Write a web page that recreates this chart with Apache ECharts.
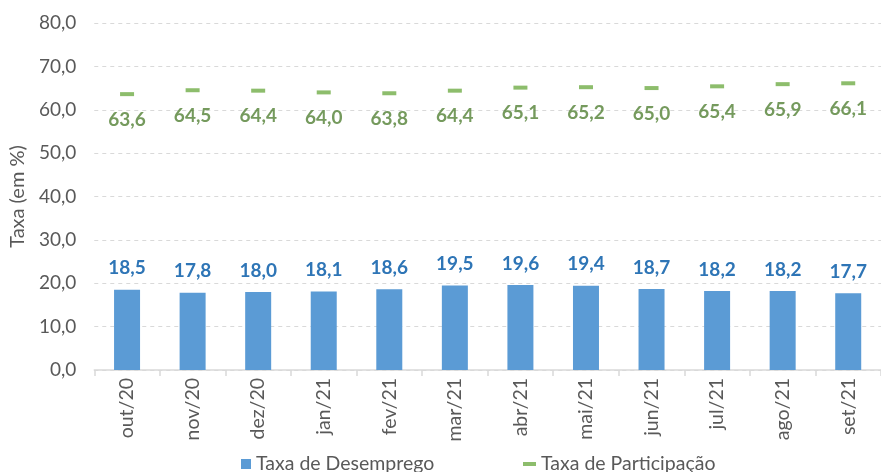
<!DOCTYPE html>
<html>
<head>
<meta charset="utf-8">
<script src="https://cdn.jsdelivr.net/npm/echarts@6/dist/echarts.min.js"></script>
<style>html,body{margin:0;padding:0;background:#fff}#c{width:881px;height:472px}</style>
</head>
<body>
<div id="c"></div>
<script>
var categories = ['out/20','nov/20','dez/20','jan/21','fev/21','mar/21','abr/21','mai/21','jun/21','jul/21','ago/21','set/21'];
var desemprego = [18.5, 17.8, 18.0, 18.1, 18.6, 19.5, 19.6, 19.4, 18.7, 18.2, 18.2, 17.7];
var participacao = [63.6, 64.5, 64.4, 64.0, 63.8, 64.4, 65.1, 65.2, 65.0, 65.4, 65.9, 66.1];
var yTicks = {min: 0, max: 80, interval: 10};

var FONT = 'Lato, "Open Sans", sans-serif';
function fmt(v){ return v.toFixed(1).replace('.', ','); }

var chart = echarts.init(document.getElementById('c'));
chart.setOption({
  animation: false,
  textStyle: {fontFamily: FONT},
  grid: {left: 94, top: 23, width: 797, bottom: 102, containLabel: false},
  legend: [
    {data: ['Taxa de Desemprego'], left: 236, top: 449, icon: 'rect', itemWidth: 10, itemHeight: 10, itemGap: 6,
     textStyle: {fontFamily: FONT, fontSize: 19.5, color: '#595959'}},
    {data: ['Taxa de Participação'], left: 518, top: 449, icon: 'rect', itemWidth: 13, itemHeight: 4, itemGap: 5,
     textStyle: {fontFamily: FONT, fontSize: 19.5, color: '#595959'}}
  ],
  xAxis: {
    type: 'category',
    data: categories,
    axisLine: {lineStyle: {color: '#D9D9D9', width: 1.5}},
    axisTick: {show: true, length: 6, lineStyle: {color: '#D9D9D9', width: 1.5}},
    axisLabel: {rotate: 90, margin: 8, fontSize: 19.5, color: '#595959', fontFamily: FONT}
  },
  yAxis: {
    type: 'value',
    min: yTicks.min, max: yTicks.max, interval: yTicks.interval,
    name: 'Taxa (em %)',
    nameLocation: 'middle',
    nameGap: 66,
    nameRotate: 90,
    nameTextStyle: {fontSize: 20, color: '#595959', fontFamily: FONT},
    axisLine: {show: false},
    axisTick: {show: false},
    axisLabel: {formatter: function(v){ return fmt(v); }, fontSize: 19, color: '#595959', margin: 18, fontFamily: FONT},
    splitLine: {lineStyle: {color: '#D9D9D9', type: [4, 4], width: 1}}
  },
  series: [
    {
      name: 'Taxa de Desemprego',
      type: 'bar',
      data: desemprego,
      barWidth: 26,
      itemStyle: {color: '#5B9BD5'},
      label: {show: true, position: 'top', distance: 12, formatter: function(p){ return fmt(p.value); },
              fontSize: 19, fontWeight: 'bold', color: '#2E75B6', fontFamily: FONT}
    },
    {
      name: 'Taxa de Participação',
      type: 'scatter',
      data: participacao,
      symbol: 'rect',
      symbolSize: [14, 4],
      itemStyle: {color: '#70AD47'},
      label: {show: true, position: 'bottom', distance: 14, formatter: function(p){ return fmt(p.value); },
              fontSize: 19, fontWeight: 'bold', color: '#538135', fontFamily: FONT}
    }
  ]
});
</script>
</body>
</html>
